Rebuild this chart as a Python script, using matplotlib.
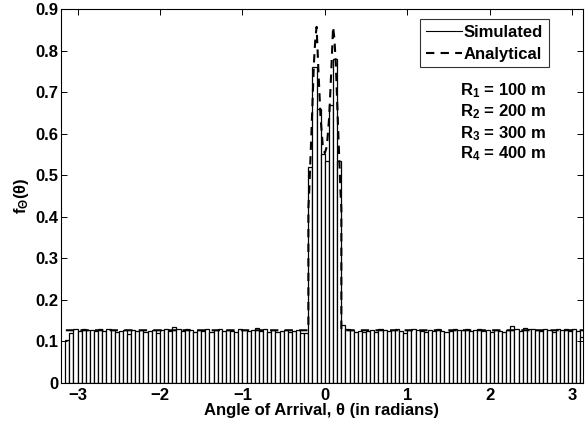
import numpy as np
import matplotlib.pyplot as plt
from matplotlib.lines import Line2D

plt.rcParams['font.family'] = ['Liberation Sans', 'DejaVu Sans']
plt.rcParams['font.weight'] = 'bold'
plt.rcParams['mathtext.fontset'] = 'custom'
plt.rcParams['mathtext.rm'] = 'Liberation Sans:bold'
plt.rcParams['mathtext.it'] = 'Liberation Sans:bold'
plt.rcParams['mathtext.bf'] = 'Liberation Sans:bold'

# histogram: bin width 0.05, first bin starts at -3.15
bin_start = -3.15
bin_width = 0.05
sim_left = [0.104,
            0.121, 0.131, 0.126, 0.129, 0.127, 0.128, 0.125, 0.129, 0.126, 0.130,
            0.127, 0.124, 0.126, 0.127, 0.119, 0.128, 0.125, 0.127, 0.122, 0.126,
            0.128, 0.121, 0.127, 0.130, 0.126, 0.134, 0.129, 0.125, 0.131, 0.127,
            0.123, 0.128, 0.126, 0.131, 0.124, 0.127, 0.129, 0.125, 0.128, 0.126,
            0.124, 0.130, 0.127, 0.125, 0.128, 0.133, 0.126, 0.129, 0.124, 0.127,
            0.122, 0.126, 0.128, 0.123, 0.125, 0.127, 0.120, 0.121]
sim_center = [0.52, 0.76, 0.66, 0.55, 0.535, 0.67, 0.78, 0.535]
sim_right = [0.140, 0.131, 0.127, 0.124, 0.126, 0.123, 0.125, 0.128, 0.124, 0.129,
             0.127, 0.125, 0.128, 0.130, 0.126, 0.121, 0.128, 0.131, 0.127, 0.125,
             0.124, 0.128, 0.126, 0.129, 0.126, 0.123, 0.125, 0.131, 0.128, 0.127,
             0.129, 0.126, 0.127, 0.130, 0.125, 0.128, 0.122, 0.127, 0.126, 0.124,
             0.128, 0.137, 0.131, 0.126, 0.132, 0.129, 0.130, 0.127, 0.125, 0.131,
             0.128, 0.124, 0.130, 0.127, 0.129, 0.126, 0.131, 0.125,
             0.112]
sim_vals = np.array(sim_left + sim_center + sim_right)

# analytical pdf
theta_an = [-3.1416, -0.2, -0.2, -0.19, -0.16, -0.133, -0.115, -0.10, -0.08, -0.053,
            -0.025, 0.0, 0.025, 0.053, 0.08, 0.10, 0.115, 0.133, 0.16, 0.19, 0.2, 0.2, 3.1416]
f_an = [0.127, 0.127, 0.42, 0.46, 0.617, 0.769, 0.83, 0.857, 0.761, 0.641,
        0.57, 0.553, 0.57, 0.641, 0.761, 0.857, 0.83, 0.769, 0.617, 0.46, 0.42, 0.127, 0.127]

radii = ['R$_1$ = 100 m', 'R$_2$ = 200 m', 'R$_3$ = 300 m', 'R$_4$ = 400 m']

fig = plt.figure(figsize=(5.87, 4.28), dpi=100)
ax = fig.add_axes([0.104, 0.105, 0.889, 0.874])

lefts = bin_start + bin_width * np.arange(len(sim_vals))
ax.bar(lefts, sim_vals, width=bin_width, align='edge', facecolor='white',
       edgecolor='black', linewidth=0.9)
ax.plot(theta_an, f_an, color='black', lw=1.5, dashes=(4, 3))

ax.set_xlim(-3.2, 3.13)
ax.set_ylim(0, 0.9)
ax.set_xticks([-3, -2, -1, 0, 1, 2, 3])
ax.set_xticklabels(['\u22123', '\u22122', '\u22121', '0', '1', '2', '3'])
ax.set_yticks(np.arange(0, 0.91, 0.1))
ax.set_yticklabels(['0', '0.1', '0.2', '0.3', '0.4', '0.5', '0.6', '0.7', '0.8', '0.9'])
ax.tick_params(direction='in', top=True, right=True, length=4, width=0.7, labelsize=12)
ax.tick_params(axis='y', pad=2)
for s in ax.spines.values():
    s.set_linewidth(0.8)

ax.set_xlabel('Angle of Arrival, \u03b8 (in radians)', fontsize=12, fontweight='bold', labelpad=0)
ax.set_ylabel('f$_\u0398$(\u03b8)', fontsize=12, fontweight='bold', labelpad=3)

handles = [Line2D([], [], color='black', lw=0.8),
           Line2D([], [], color='black', lw=1.5, dashes=(4, 3))]
leg = ax.legend(handles, ['Simulated', 'Analytical'], loc='upper right',
                bbox_to_anchor=(0.935, 0.973), fontsize=12, frameon=True, fancybox=False,
                edgecolor='black', handlelength=2.2, handletextpad=0.1,
                borderpad=0.35, labelspacing=0.4, borderaxespad=0.0)
leg.get_frame().set_linewidth(0.8)

for i, y in enumerate([0.783, 0.725, 0.668, 0.612]):
    ax.text(0.93, y, radii[i], transform=ax.transAxes, ha='right',
            va='center', fontsize=12, fontweight='bold')

fig.savefig('out.png', dpi=100)
